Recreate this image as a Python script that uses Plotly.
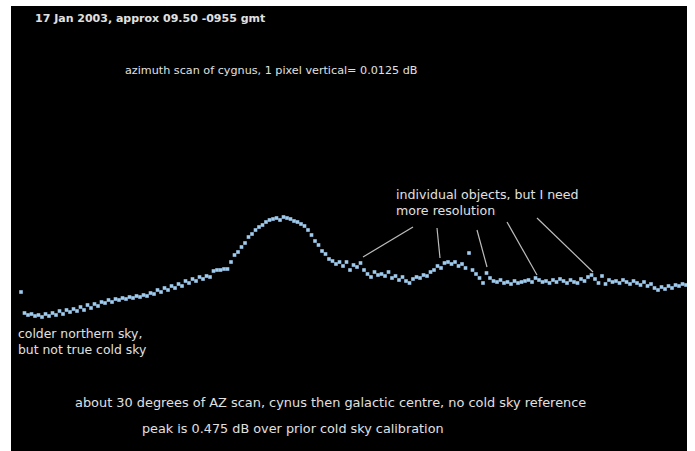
import plotly.graph_objects as go

# Drift-scan trace: receiver level in screen pixels relative to the
# cold-sky reference (1 pixel vertical = 0.0125 dB), one value per sample.
DB_PER_PIXEL = 0.0125
level_px = [
    -37, -58, -60, -59, -61, -60, -62, -59, -61, -58, -60, -56, -59, -55, -57, -54,
    -56, -52, -55, -50, -53, -49, -51, -47, -48, -45, -47, -44, -45, -43, -44, -42,
    -43, -41, -42, -40, -41, -38, -39, -35, -37, -33, -35, -31, -33, -29, -31, -26,
    -28, -24, -26, -22, -24, -21, -22, -16, -15, -15, -14, -14, -7, 0, 3, 8,
    12, 18, 21, 25, 28, 30, 33, 35, 36, 37, 35, 38, 37, 36, 34, 33,
    31, 29, 25, 20, 14, 10, 4, 1, -4, -6, -9, -7, -11, -7, -15, -10,
    -12, -8, -15, -19, -22, -17, -20, -19, -21, -17, -23, -21, -25, -22, -26, -28,
    -24, -22, -23, -20, -21, -17, -15, -11, -13, -8, -7, -9, -7, -11, -9, -13,
    2, -15, -19, -23, -28, -18, -23, -26, -27, -25, -28, -27, -29, -26, -28, -27,
    -26, -25, -27, -23, -25, -27, -26, -28, -25, -27, -24, -26, -28, -25, -27, -28,
    -24, -26, -22, -20, -24, -28, -21, -29, -25, -27, -26, -28, -25, -27, -29, -26,
    -28, -30, -27, -31, -29, -33, -35, -32, -34, -31, -33, -30, -31, -29, -30,
]
samples = list(range(len(level_px)))
level_db = [v * DB_PER_PIXEL for v in level_px]

texts = [
    "<b>17 Jan 2003, approx 09.50 -0955 gmt</b>",
    "azimuth scan of cygnus, 1 pixel vertical= 0.0125 dB",
    "individual objects, but I need<br>more resolution",
    "colder northern sky,<br>but not true cold sky",
    "about 30 degrees of AZ scan, cynus then galactic centre, no cold sky reference",
    "peak is 0.475 dB over prior cold sky calibration",
]

# ---- layout geometry (pixels of the 695x451 page) ----
W, H = 695, 451
L, R, T, B = 11, 8, 6, 0
PW, PH = W - L - R, H - T - B
X_FIRST, X_LAST = 21, 686  # pixel of first / last sample
n = len(samples)
sc = (X_LAST - X_FIRST) / (n - 1)
x0 = -(X_FIRST - L) / sc
x1 = (n - 1) + (W - R - X_LAST) / sc
ROW_REF = 255  # screen row of the cold-sky reference level
y_top = (ROW_REF - T) * DB_PER_PIXEL
y_bot = (ROW_REF - H) * DB_PER_PIXEL


def px(x):
    return (x - L) / PW


def py(row):
    return (H - row) / PH


fig = go.Figure()
fig.add_trace(go.Scatter(
    x=samples, y=level_db, mode="markers",
    marker=dict(symbol="square", size=3.6, color="#9fcbef", line=dict(width=0)),
    hoverinfo="skip",
))

FAMILY = "DejaVu Sans, Verdana, sans-serif"
text_pos = [(33, 18), (123, 70), (394, 202), (16, 341), (73, 402), (140, 428)]
text_size = [11.0, 11.2, 12.6, 12.4, 12.9, 12.8]
anns = []
for t, (xx, yy), fs in zip(texts, text_pos, text_size):
    anns.append(dict(text=t, x=px(xx), y=py(yy), xref="paper", yref="paper",
                     xanchor="left", yanchor="middle", showarrow=False,
                     align="left",
                     font=dict(family=FAMILY, size=fs, color="#e0e0e0")))

pointer_lines = [((363, 257), (413, 227)), ((440, 258), (437, 228)),
                 ((487, 267), (477, 230)), ((537, 275), (507, 222)),
                 ((593, 272), (537, 218))]
shapes = []
for (bx, by), (tx, ty) in pointer_lines:
    shapes.append(dict(type="line", xref="paper", yref="paper",
                       x0=px(bx), y0=py(by), x1=px(tx), y1=py(ty),
                       line=dict(color="#bdbdbd", width=1.2)))

fig.update_layout(
    width=W, height=H, margin=dict(l=L, r=R, t=T, b=B),
    paper_bgcolor="white", plot_bgcolor="black",
    showlegend=False, annotations=anns, shapes=shapes,
    xaxis=dict(range=[x0, x1], visible=False),
    yaxis=dict(range=[y_bot, y_top], visible=False),
)
fig.write_html("out.html")
